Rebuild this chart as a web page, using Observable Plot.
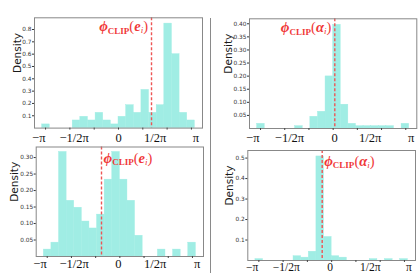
<!DOCTYPE html>
<html><head><meta charset="utf-8">
<script src="https://cdn.jsdelivr.net/npm/d3@7"></script>
<script src="https://cdn.jsdelivr.net/npm/@observablehq/plot@0.6"></script>
<style>
html,body{margin:0;padding:0;background:#fff;}
#root{position:relative;width:419px;height:273px;overflow:hidden;background:#fff;}
#root svg{position:absolute;}
.sep{position:absolute;left:210px;top:18px;width:0;height:255px;border-left:1px solid #8a8a8a;}
</style></head><body><div id="root"><div class="sep"></div></div>
<script>
const PI = Math.PI;
// 20 histogram bins spanning [-π, π]
const binStart = -PI;
const binWidth = PI / 10;
const xLabels = ["−π", "−1/2π", "0", "1/2π", "π"];
const xTickMarks = [-3, -2, -1, 0, 1, 2, 3];

// densities per bin
const tlDensity = [0.03,0,0,0,0.062,0.092,0.062,0.124,0.062,0.03,0.092,0.186,0.124,0.31,0.124,0.186,0.848,0.6,0.124,0.062];
const trDensity = [0.018,0,0,0,0,0.009,0,0.045,0.064,0.199,0.396,0.091,0.018,0.009,0.009,0.009,0.009,0.009,0,0.018];
const blDensity = [0.021,0.042,0.317,0.169,0.148,0.106,0.085,0.127,0.233,0.317,0.233,0.169,0.063,0,0,0.021,0,0.021,0,0.042];
const brDensity = [0.007,0,0,0,0,0.021,0.014,0.043,0.508,0.115,0.021,0.014,0,0,0,0.007,0,0.007,0,0.007];

// y ticks
const tlYTicks = [0.1,0.2,0.3,0.4,0.5,0.6,0.7,0.8];
const trYTicks = [0.05,0.10,0.15,0.20,0.25,0.30,0.35,0.40];
const blYTicks = [0.05,0.10,0.15,0.20,0.25,0.30];
const brYTicks = [0.1,0.2,0.3,0.4,0.5];
const tlYMax = 0.895, trYMax = 0.419, blYMax = 0.332, brYMax = 0.537;

// CLIP marker value (dashed line) per panel
const tlMarker = 1.358, trMarker = 0.068, blMarker = -0.758, brMarker = -0.39;

// positions of the overlaid angle labels, per panel
const tlLabelAt = [-3.279, -1.823, 0, 1.51, 3.188];
const trLabelAt = [-3.319, -1.803, 0.056, 1.53, 3.224];
const blLabelAt = [-3.298, -1.886, -0.056, 1.46, 3.195];
const brLabelAt = [-3.275, -1.873, -0.06, 1.593, 3.18];

const RED = "#f03838";
const LINE_RED = "#ee5555";

function clipLabel(marker, greek, anchor, baseline) {
  return (index, scales, values, dimensions) => {
    const ns = "http://www.w3.org/2000/svg";
    const t = document.createElementNS(ns, "text");
    const x = scales.x(marker) + (anchor === "end" ? -3 : 2.5);
    t.setAttribute("x", x);
    t.setAttribute("y", dimensions.marginTop + baseline);
    t.setAttribute("text-anchor", anchor);
    t.setAttribute("fill", RED);
    t.setAttribute("font-family", "Liberation Serif");
    t.setAttribute("font-size", "14.5");
    const parts = [
      ["ϕ", {"font-weight": "bold", "font-style": "italic", "font-size": "15"}],
      ["CLIP", {"font-weight": "bold", "font-size": "9", dy: "2.7"}],
      ["(", {dy: "-2.7"}],
      [greek, {"font-weight": "bold", "font-style": "italic"}],
      ["i", {"font-style": "italic", "font-size": "9", dy: "2"}],
      [")", {dy: "-2"}]
    ];
    for (const [s, attrs] of parts) {
      const sp = document.createElementNS(ns, "tspan");
      for (const k in attrs) sp.setAttribute(k, attrs[k]);
      sp.textContent = s;
      t.appendChild(sp);
    }
    return t;
  };
}

function panel(o) {
  const bins = o.density.map((v, i) => ({x1: binStart + i * binWidth, x2: binStart + (i + 1) * binWidth, v}))
    .filter(d => d.v > 0);
  const fmt = new Map(o.labelAt.map((p, i) => [p, xLabels[i]]));
  const svg = Plot.plot({
    width: o.width, height: o.height,
    marginLeft: o.mL, marginRight: o.mR, marginTop: o.mT, marginBottom: o.mB,
    style: {background: "transparent", overflow: "visible", fontFamily: "DejaVu Sans"},
    x: {domain: [-1.1 * PI, 1.1 * PI]},
    y: {domain: [0, o.yMax]},
    marks: [
      Plot.rectY(bins, {x1: "x1", x2: "x2", y: "v", fill: "#a0ede4", stroke: "#a0ede4", strokeWidth: 0.4}),
      Plot.ruleX([o.marker], {stroke: LINE_RED, strokeWidth: 1.4, strokeDasharray: "3,2"}),
      Plot.frame({stroke: "#888"}),
      Plot.axisY({ticks: o.yTicks, tickFormat: d3.format(o.yFmt), tickSize: 2, tickPadding: 1, fontSize: 5.8, label: null, color: "#333"}),
      Plot.axisX({ticks: xTickMarks, tickSize: 2, tickFormat: () => "", label: null, color: "#444"}),
      Plot.axisX({ticks: o.labelAt, tickSize: 0, tickPadding: o.lblPad, tickFormat: d => fmt.get(d), fontSize: o.lblSize, fontFamily: "Liberation Serif", label: null, color: "#111"}),
      Plot.text(["Density"], {text: d => d, frameAnchor: "left", rotate: -90, dx: o.densDx, fontSize: 10.5, fill: "#1a1a1a"}),
      clipLabel(o.marker, o.greek, o.anchor, o.baseline)
    ]
  });
  svg.style.left = o.left + "px";
  svg.style.top = o.top + "px";
  document.getElementById("root").appendChild(svg);
}

panel({density: tlDensity, yMax: tlYMax, yTicks: tlYTicks, yFmt: ".1f", marker: tlMarker, labelAt: tlLabelAt,
  greek: "e", anchor: "end", baseline: 13.5, left: 0, top: 0, width: 210, height: 140,
  mL: 34, mR: 8, mT: 17.3, mB: 12.4, densDx: -17, lblPad: 5, lblSize: 12.5});
panel({density: trDensity, yMax: trYMax, yTicks: trYTicks, yFmt: ".2f", marker: trMarker, labelAt: trLabelAt,
  greek: "α", anchor: "end", baseline: 14, left: 211, top: 0, width: 208, height: 140,
  mL: 38, mR: 2.7, mT: 18.3, mB: 12, densDx: -20.7, lblPad: 5, lblSize: 12.5});
panel({density: blDensity, yMax: blYMax, yTicks: blYTicks, yFmt: ".2f", marker: blMarker, labelAt: blLabelAt,
  greek: "e", anchor: "start", baseline: 16, left: 0, top: 140, width: 210, height: 133,
  mL: 35.7, mR: 7, mT: 6.5, mB: 17, densDx: -21.5, lblPad: 3, lblSize: 12.5});
panel({density: brDensity, yMax: brYMax, yTicks: brYTicks, yFmt: ".1f", marker: brMarker, labelAt: brLabelAt,
  greek: "α", anchor: "start", baseline: 15.7, left: 211, top: 140, width: 208, height: 133,
  mL: 36.3, mR: 4, mT: 10, mB: 13, densDx: -18.3, lblPad: 2.5, lblSize: 11.5});
</script>
</body></html>
